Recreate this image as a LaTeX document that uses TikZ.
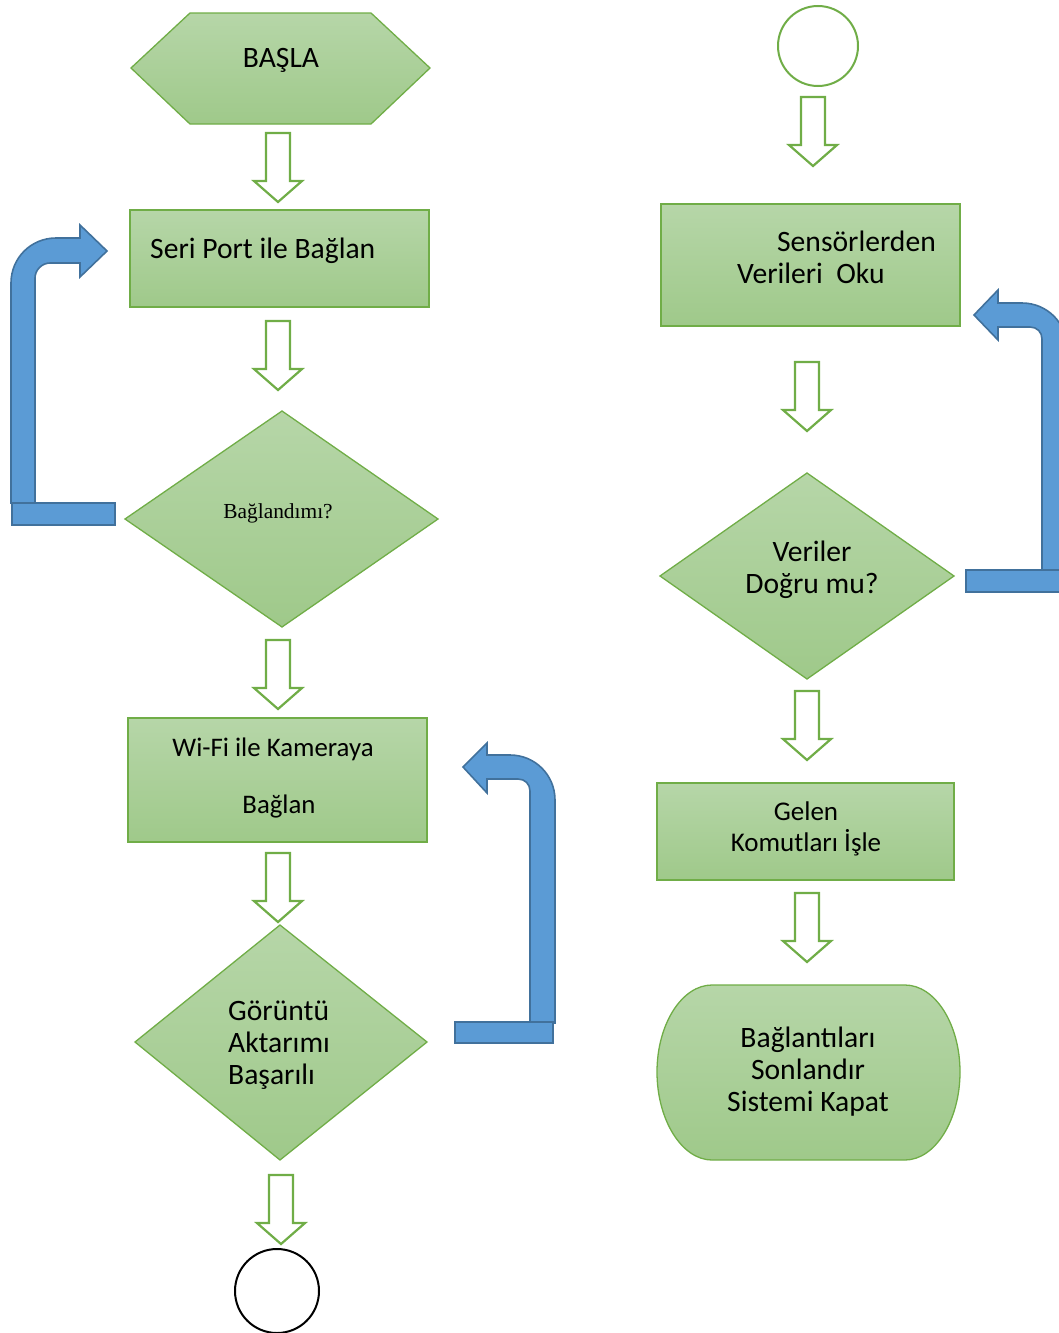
\documentclass[tikz,border=0pt]{standalone}
\usepackage{fontspec}
\setmainfont{Carlito}
\newfontfamily\timesf{Liberation Serif}
\definecolor{gstroke}{HTML}{70AD47}
\definecolor{gtop}{HTML}{B6D6A8}
\definecolor{gbot}{HTML}{9FC98A}
\definecolor{bfill}{HTML}{5B9BD5}
\definecolor{bstroke}{HTML}{41719C}
\newcommand\garrow[2]{\draw[garr] (#1,#2) ++(-12,0) -- ++(24,0) -- ++(0,48) -- ++(12,0) -- ++(-24,21) -- ++(-24,-21) -- ++(12,0) -- cycle;}
\begin{document}
\begin{tikzpicture}[x=1pt,y=-1pt,
  gshape/.style={draw=gstroke, line width=1.3pt, top color=gtop, bottom color=gbot},
  garr/.style={draw=gstroke, line width=2.2pt, fill=white, line join=miter},
  barr/.style={draw=bstroke, line width=1.6pt, fill=bfill, line join=miter},
  txt/.style={font=\fontsize{29.6}{32}\selectfont, align=center, inner sep=0pt},
]
\useasboundingbox (0,0) rectangle (1059,1333);
\clip (0,0) rectangle (1059,1333);

% ---------- left column shapes ----------
\path[gshape] (131,68) -- (190,13) -- (371,13) -- (430,68) -- (371,124) -- (190,124) -- cycle;
\path[gshape] (130,210) rectangle (429,307);
\path[gshape] (125,519) -- (282,411) -- (438,519) -- (282,627) -- cycle;
\path[gshape] (128,718) rectangle (427,842);
\path[gshape] (135,1042) -- (280,925) -- (427,1042) -- (280,1160) -- cycle;
\draw[line width=2pt] (277,1291) circle[radius=42];

% ---------- right column shapes ----------
\draw[gstroke, line width=2pt] (818,46) circle[radius=40];
\path[gshape] (661,204) rectangle (960,326);
\path[gshape] (660,576) -- (807,473) -- (954,576) -- (807,679) -- cycle;
\path[gshape] (657,783) rectangle (954,880);
\path[gshape] (712,985) -- (905,985) .. controls (935,985) and (960,1024) .. (960,1072)
  .. controls (960,1120) and (935,1160) .. (905,1160) -- (712,1160)
  .. controls (682,1160) and (657,1120) .. (657,1072)
  .. controls (657,1024) and (682,985) .. (712,985) -- cycle;

% ---------- texts ----------
\node[txt] (basla) at (281,60) {BAŞLA};
\node[txt, anchor=west] (seri) at (150,251) {Seri Port ile Bağlan};
\node[font=\timesf\fontsize{21.4}{24}\selectfont, inner sep=0pt] (bagq) at (278,513) {Bağlandımı?};
\node[txt, font=\fontsize{26.8}{30}\selectfont] (wifia) at (273,749) {Wi-Fi ile Kameraya};
\node[txt, font=\fontsize{26.8}{30}\selectfont] (wifib) at (279,806) {Bağlan};
\node[txt, align=left, anchor=west] (gor) at (228,1045) {Görüntü\\Aktarımı\\Başarılı};
\node[txt, anchor=east] (sensa) at (936,241) {Sensörlerden};
\node[txt, anchor=west] (sensb) at (737,273) {Verileri\ \ Oku};
\node[txt] (ver) at (812,570) {Veriler\\Doğru mu?};
\node[txt, font=\fontsize{27}{31}\selectfont] (gelen) at (806,829) {Gelen\\Komutları İşle};
\node[txt] (term) at (808,1072) {Bağlantıları\\Sonlandır\\Sistemi Kapat};

% ---------- green block arrows ----------
\garrow{278}{133}
\garrow{278}{321}
\garrow{278}{640}
\garrow{278}{853}
\garrow{281}{1175}
\garrow{813}{97}
\garrow{807}{362}
\garrow{807}{691}
\garrow{807}{893}

% ---------- blue bent arrows ----------
\path[barr] (11,503) -- (11,283) .. controls (11,258) and (31,238) .. (56,238) -- (80,238) -- (80,225)
  -- (107,251) -- (80,277) -- (80,263) -- (50,263) .. controls (42,263) and (35,270) .. (35,278)
  -- (35,503) -- cycle;
\path[barr] (12,503) rectangle (115,525);

\path[barr] (555,1023) -- (555,800) .. controls (555,775) and (535,755) .. (510,755) -- (487,755) -- (487,743)
  -- (463,767) -- (487,793) -- (487,779) -- (518,779) .. controls (525,779) and (530,784) .. (530,791)
  -- (530,1023) -- cycle;
\path[barr] (455,1022) rectangle (553,1043);

\path[barr] (1067,570) -- (1067,348) .. controls (1067,323) and (1047,303) .. (1022,303) -- (998,303) -- (998,290)
  -- (974,315) -- (998,340) -- (998,327) -- (1030,327) .. controls (1037,327) and (1042,332) .. (1042,339)
  -- (1042,570) -- cycle;
\path[barr] (966,570) rectangle (1070,592);
\end{tikzpicture}
\end{document}
